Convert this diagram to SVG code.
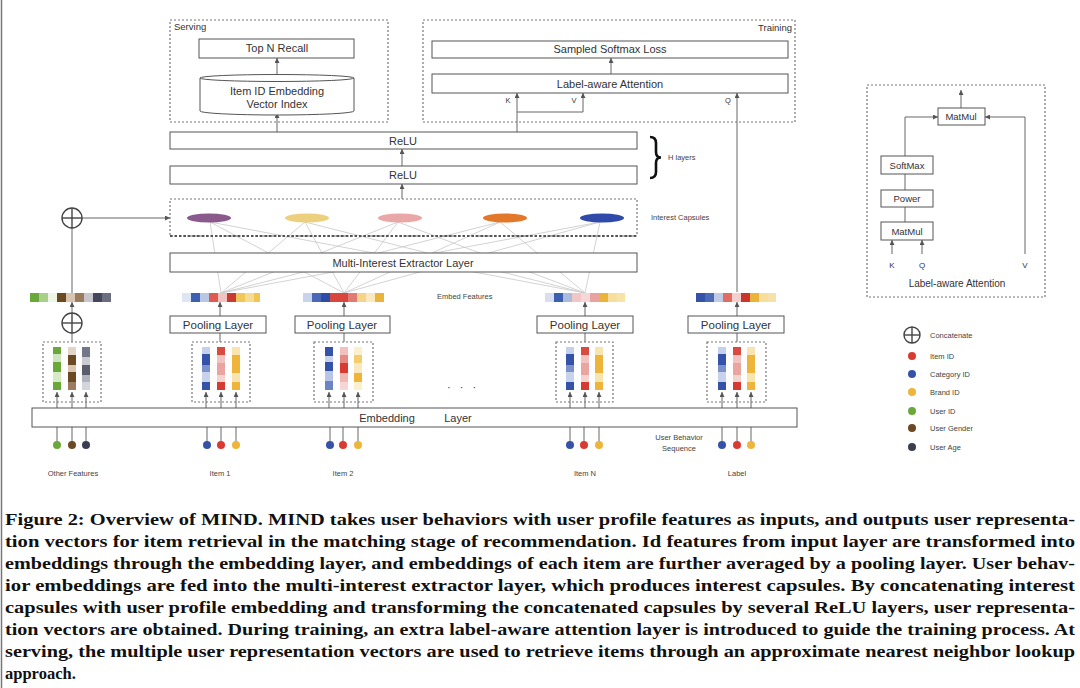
<svg xmlns="http://www.w3.org/2000/svg" width="1080" height="688" viewBox="0 0 1080 688">
<style>
.box{fill:#fff;stroke:#555;stroke-width:1}
.dash{fill:none;stroke:#777;stroke-width:1.2;stroke-dasharray:2 2}
.t{font-family:"Liberation Sans",Arial,sans-serif;fill:#333;text-anchor:middle}
.s{font-family:"Liberation Sans",Arial,sans-serif;fill:#444;font-size:7.5px}
.ln{stroke:#666;stroke-width:1;fill:none}
.ar{stroke:#666;stroke-width:1;fill:none;marker-end:url(#ah)}
.fan{stroke:#c8c8c8;stroke-width:0.8}
.cap{font-family:"Liberation Serif","Times New Roman",serif;font-weight:bold;font-size:16.5px;fill:#111}
.cc{fill:none;stroke:#444;stroke-width:1.4}
</style>
<defs>
<marker id="ah" markerUnits="userSpaceOnUse" markerWidth="5" markerHeight="5" refX="5" refY="2.5" orient="auto">
<path d="M0,0 L5,2.5 L0,5 z" fill="#555"/>
</marker>
<g id="blueA"><rect x="-4" y="347" width="8" height="7" fill="#c5d0ea"/><rect x="-4" y="354" width="8" height="11" fill="#3452a8"/><rect x="-4" y="365" width="8" height="7" fill="#7d92cc"/><rect x="-4" y="372" width="8" height="10" fill="#c8d2ec"/><rect x="-4" y="382" width="8" height="8" fill="#3452a8"/></g>
<g id="blueB"><rect x="-4" y="347" width="8" height="9" fill="#3452a8"/><rect x="-4" y="356" width="8" height="6" fill="#c8d2ec"/><rect x="-4" y="362" width="8" height="9" fill="#3452a8"/><rect x="-4" y="371" width="8" height="10" fill="#b8c5e6"/><rect x="-4" y="381" width="8" height="9" fill="#6d84c4"/></g>
<g id="redA"><rect x="-4" y="347" width="8" height="8" fill="#d94a40"/><rect x="-4" y="355" width="8" height="8" fill="#f3c3c0"/><rect x="-4" y="363" width="8" height="12" fill="#eaa5a1"/><rect x="-4" y="375" width="8" height="7" fill="#f5d3d1"/><rect x="-4" y="382" width="8" height="8" fill="#d63b33"/></g>
<g id="redB"><rect x="-4" y="347" width="8" height="8" fill="#f2c0bd"/><rect x="-4" y="355" width="8" height="8" fill="#e58a84"/><rect x="-4" y="363" width="8" height="10" fill="#d93a31"/><rect x="-4" y="373" width="8" height="9" fill="#f0b7b3"/><rect x="-4" y="382" width="8" height="8" fill="#f6d6d4"/></g>
<g id="yelA"><rect x="-4" y="347" width="8" height="8" fill="#f8e4ae"/><rect x="-4" y="355" width="8" height="18" fill="#eeb53a"/><rect x="-4" y="373" width="8" height="9" fill="#f8e4ae"/><rect x="-4" y="382" width="8" height="8" fill="#eeb53a"/></g>
<g id="yelB"><rect x="-4" y="347" width="8" height="8" fill="#fbefcc"/><rect x="-4" y="355" width="8" height="8" fill="#f3cd6e"/><rect x="-4" y="363" width="8" height="10" fill="#fae9bd"/><rect x="-4" y="373" width="8" height="9" fill="#eeb53a"/><rect x="-4" y="382" width="8" height="8" fill="#fbefcc"/></g>
</defs>
<rect x="0" y="0" width="1080" height="688" fill="#fff"/>
<line x1="1.5" y1="0" x2="1.5" y2="688" stroke="#777" stroke-width="1.5"/>

<g id="connectors">
<g id="fan-lines">
<line class="fan" x1="221" y1="293" x2="210" y2="222"/><line class="fan" x1="221" y1="293" x2="305" y2="222"/><line class="fan" x1="221" y1="293" x2="398" y2="222"/><line class="fan" x1="221" y1="293" x2="500" y2="222"/><line class="fan" x1="221" y1="293" x2="600" y2="222"/>
<line class="fan" x1="344" y1="293" x2="210" y2="222"/><line class="fan" x1="344" y1="293" x2="305" y2="222"/><line class="fan" x1="344" y1="293" x2="398" y2="222"/><line class="fan" x1="344" y1="293" x2="500" y2="222"/><line class="fan" x1="344" y1="293" x2="600" y2="222"/>
<line class="fan" x1="585" y1="293" x2="210" y2="222"/><line class="fan" x1="585" y1="293" x2="305" y2="222"/><line class="fan" x1="585" y1="293" x2="398" y2="222"/><line class="fan" x1="585" y1="293" x2="500" y2="222"/><line class="fan" x1="585" y1="293" x2="600" y2="222"/>
</g>
<line class="ar" x1="277" y1="132" x2="277" y2="113"/>
<line class="ar" x1="277" y1="75" x2="277" y2="58"/>
<line class="ar" x1="611" y1="74" x2="611" y2="58"/>
<line class="ar" x1="517" y1="132" x2="517" y2="93"/>
<polyline class="ar" points="517,112 583,112 583,93"/>
<line class="ar" x1="737" y1="292" x2="737" y2="93"/>
<line class="ar" x1="402" y1="166" x2="402" y2="149"/>
<line class="ar" x1="402" y1="199" x2="402" y2="184"/>
<line class="ar" x1="82" y1="218" x2="170" y2="218"/>
<line class="ln" x1="72" y1="297" x2="72" y2="228"/>
<line class="ar" x1="72" y1="313" x2="72" y2="302"/>
<line class="ln" x1="72" y1="342" x2="72" y2="333"/>
<line class="ar" x1="220" y1="316" x2="220" y2="302"/>
<line class="ar" x1="344" y1="316" x2="344" y2="302"/>
<line class="ar" x1="585" y1="316" x2="585" y2="302"/>
<line class="ar" x1="737" y1="316" x2="737" y2="302"/>
<line class="ln" x1="220" y1="342" x2="220" y2="333"/>
<line class="ln" x1="344" y1="342" x2="344" y2="333"/>
<line class="ln" x1="585" y1="342" x2="585" y2="333"/>
<line class="ln" x1="737" y1="342" x2="737" y2="333"/>
<g id="emb-arrows">
<line class="ar" x1="57" y1="408" x2="57" y2="392"/><line class="ar" x1="72" y1="408" x2="72" y2="392"/><line class="ar" x1="86" y1="408" x2="86" y2="392"/>
<line class="ar" x1="206" y1="408" x2="206" y2="392"/><line class="ar" x1="221" y1="408" x2="221" y2="392"/><line class="ar" x1="236" y1="408" x2="236" y2="392"/>
<line class="ar" x1="329" y1="408" x2="329" y2="392"/><line class="ar" x1="344" y1="408" x2="344" y2="392"/><line class="ar" x1="358" y1="408" x2="358" y2="392"/>
<line class="ar" x1="570" y1="408" x2="570" y2="392"/><line class="ar" x1="585" y1="408" x2="585" y2="392"/><line class="ar" x1="599" y1="408" x2="599" y2="392"/>
<line class="ar" x1="722" y1="408" x2="722" y2="392"/><line class="ar" x1="737" y1="408" x2="737" y2="392"/><line class="ar" x1="751" y1="408" x2="751" y2="392"/>
</g>
<g id="input-lines">
<line class="ln" x1="57" y1="445" x2="57" y2="427"/><line class="ln" x1="72" y1="445" x2="72" y2="427"/><line class="ln" x1="86" y1="445" x2="86" y2="427"/>
<line class="ln" x1="207" y1="445" x2="207" y2="427"/><line class="ln" x1="221" y1="445" x2="221" y2="427"/><line class="ln" x1="236" y1="445" x2="236" y2="427"/>
<line class="ln" x1="330" y1="445" x2="330" y2="427"/><line class="ln" x1="343" y1="445" x2="343" y2="427"/><line class="ln" x1="358" y1="445" x2="358" y2="427"/>
<line class="ln" x1="570" y1="445" x2="570" y2="427"/><line class="ln" x1="584" y1="445" x2="584" y2="427"/><line class="ln" x1="599" y1="445" x2="599" y2="427"/>
<line class="ln" x1="722" y1="445" x2="722" y2="427"/><line class="ln" x1="737" y1="445" x2="737" y2="427"/><line class="ln" x1="751" y1="445" x2="751" y2="427"/>
</g>
<g id="attn-lines">
<line class="ar" x1="961" y1="108" x2="961" y2="90"/>
<polyline class="ar" points="905,156 905,117 938,117"/>
<line class="ln" x1="905" y1="174" x2="905" y2="190"/>
<line class="ln" x1="905" y1="207" x2="905" y2="222"/>
<line class="ar" x1="892" y1="254" x2="892" y2="240"/>
<line class="ar" x1="922" y1="254" x2="922" y2="240"/>
<polyline class="ar" points="1025,254 1025,117 985,117"/>
</g>
</g>

<g id="serving">
<rect class="dash" x="170" y="20" width="218" height="102"/>
<text class="t" x="174" y="30" font-size="9.5" style="text-anchor:start">Serving</text>
</g>
<g id="top-n-recall"><rect class="box" x="199" y="39" width="155" height="19"/><text class="t" x="277" y="52" font-size="11">Top N Recall</text></g>
<g id="vector-index">
<path class="box" d="M200,78 L200,111 A77,4 0 0 0 354,111 L354,78"/>
<ellipse class="box" cx="277" cy="78" rx="77" ry="3.5"/>
<text class="t" x="277" y="95" font-size="11">Item ID Embedding</text>
<text class="t" x="277" y="108" font-size="11">Vector Index</text>
</g>
<g id="training">
<rect class="dash" x="423" y="20" width="372" height="102"/>
<text class="t" x="792" y="31" font-size="9.5" style="text-anchor:end">Training</text>
</g>
<g id="sampled-softmax"><rect class="box" x="432" y="41" width="356" height="17"/><text class="t" x="610" y="53" font-size="11">Sampled Softmax Loss</text></g>
<g id="label-aware-attention">
<rect class="box" x="432" y="74" width="356" height="19"/><text class="t" x="610" y="88" font-size="11">Label-aware Attention</text>
<text class="t" x="508" y="103" font-size="7.5">K</text><text class="t" x="574" y="103" font-size="7.5">V</text><text class="t" x="728" y="103" font-size="7.5">Q</text>
</g>
<g id="relu1"><rect class="box" x="170" y="132" width="467" height="17"/><text class="t" x="403" y="145" font-size="11">ReLU</text></g>
<g id="relu2"><rect class="box" x="170" y="166" width="467" height="18" stroke-width="1.4"/><text class="t" x="403" y="179" font-size="11">ReLU</text></g>
<g id="h-layers">
<path d="M650,137 Q656,137 656,143 L656,152 Q656,157.5 661,157.5 Q656,157.5 656,163 L656,172 Q656,178 650,178" fill="none" stroke="#111" stroke-width="2.6"/>
<text class="s" x="668" y="160">H layers</text>
</g>
<g id="interest-capsules">
<rect class="dash" x="170" y="199" width="467" height="37"/>
<line x1="170" y1="236" x2="637" y2="236" stroke="#555" stroke-width="1.8" stroke-dasharray="2.5 2"/>
<ellipse cx="209" cy="218" rx="22" ry="4.5" fill="#8a5a8c"/>
<ellipse cx="307" cy="218" rx="22" ry="4.5" fill="#ecd07e"/>
<ellipse cx="400" cy="218" rx="22" ry="4.5" fill="#eaa7a7"/>
<ellipse cx="505" cy="218" rx="22" ry="4.5" fill="#e3772a"/>
<ellipse cx="602" cy="218" rx="22" ry="4.5" fill="#2f4aa8"/>
<text class="s" x="651" y="220">Interest Capsules</text>
</g>
<g id="concat-top"><circle class="cc" cx="72" cy="218" r="10" fill="#fff"/><line class="cc" x1="62" y1="218" x2="82" y2="218"/><line class="cc" x1="72" y1="208" x2="72" y2="228"/></g>
<g id="extractor"><rect class="box" x="170" y="253" width="467" height="19"/><text class="t" x="403" y="267" font-size="11">Multi-Interest Extractor Layer</text></g>

<g id="embed-features">
<g id="strip-other">
<rect x="30" y="293" width="9" height="9" fill="#6aa83a"/><rect x="39" y="293" width="9" height="9" fill="#a9d08a"/><rect x="48" y="293" width="9" height="9" fill="#eef5e6"/><rect x="57" y="293" width="9" height="9" fill="#6b4a23"/><rect x="66" y="293" width="9" height="9" fill="#d8c4b0"/><rect x="75" y="293" width="9" height="9" fill="#9b7c5e"/><rect x="84" y="293" width="9" height="9" fill="#c7c7cd"/><rect x="93" y="293" width="9" height="9" fill="#44475a"/><rect x="102" y="293" width="9" height="9" fill="#6b6e7e"/>
</g>
<g id="strip-item1">
<rect x="182" y="293" width="9" height="9" fill="#dfe6f3"/><rect x="191" y="293" width="9" height="9" fill="#3c5fb0"/><rect x="200" y="293" width="9" height="9" fill="#b9c6e4"/><rect x="209" y="293" width="9" height="9" fill="#e05a4f"/><rect x="218" y="293" width="9" height="9" fill="#f2c2c0"/><rect x="227" y="293" width="9" height="9" fill="#c93a32"/><rect x="236" y="293" width="9" height="9" fill="#f2c75a"/><rect x="245" y="293" width="9" height="9" fill="#f5dc90"/><rect x="254" y="293" width="6" height="9" fill="#f1c552"/>
</g>
<g id="strip-item2">
<rect x="303" y="293" width="9" height="9" fill="#c9d3ec"/><rect x="312" y="293" width="9" height="9" fill="#4a68b5"/><rect x="321" y="293" width="9" height="9" fill="#2e4ea6"/><rect x="330" y="293" width="9" height="9" fill="#d9463e"/><rect x="339" y="293" width="9" height="9" fill="#d9463e"/><rect x="348" y="293" width="9" height="9" fill="#e07a73"/><rect x="357" y="293" width="9" height="9" fill="#f3d48a"/><rect x="366" y="293" width="9" height="9" fill="#fae9c0"/><rect x="375" y="293" width="9" height="9" fill="#eab33a"/>
</g>
<g id="strip-itemN">
<rect x="545" y="293" width="9" height="9" fill="#d6def0"/><rect x="554" y="293" width="9" height="9" fill="#3d5fb2"/><rect x="563" y="293" width="9" height="9" fill="#aabbe0"/><rect x="572" y="293" width="9" height="9" fill="#f1c6c6"/><rect x="581" y="293" width="9" height="9" fill="#f6d8d8"/><rect x="590" y="293" width="9" height="9" fill="#e9a2a0"/><rect x="599" y="293" width="9" height="9" fill="#eab33a"/><rect x="608" y="293" width="9" height="9" fill="#f6de9c"/><rect x="617" y="293" width="8" height="9" fill="#f7e3a8"/>
</g>
<g id="strip-label">
<rect x="696" y="293" width="9" height="9" fill="#3452a8"/><rect x="705" y="293" width="9" height="9" fill="#4d6ab8"/><rect x="714" y="293" width="9" height="9" fill="#c0cbe8"/><rect x="723" y="293" width="9" height="9" fill="#e06c62"/><rect x="732" y="293" width="9" height="9" fill="#f4cfcd"/><rect x="741" y="293" width="9" height="9" fill="#c9362e"/><rect x="750" y="293" width="9" height="9" fill="#eab33a"/><rect x="759" y="293" width="9" height="9" fill="#f6de9c"/><rect x="768" y="293" width="8" height="9" fill="#f6e2a8"/>
</g>
<text class="s" x="437" y="299">Embed Features</text>
</g>

<g id="concat-bottom"><circle class="cc" cx="72" cy="323" r="10" fill="#fff"/><line class="cc" x1="62" y1="323" x2="82" y2="323"/><line class="cc" x1="72" y1="313" x2="72" y2="333"/></g>
<g id="pool1"><rect class="box" x="170" y="316" width="96" height="17"/><text class="t" x="218" y="329" font-size="11.5">Pooling Layer</text></g>
<g id="pool2"><rect class="box" x="295" y="316" width="95" height="17"/><text class="t" x="342" y="329" font-size="11.5">Pooling Layer</text></g>
<g id="poolN"><rect class="box" x="537" y="316" width="96" height="17"/><text class="t" x="585" y="329" font-size="11.5">Pooling Layer</text></g>
<g id="poolL"><rect class="box" x="688" y="316" width="96" height="17"/><text class="t" x="736" y="329" font-size="11.5">Pooling Layer</text></g>

<g id="group-other">
<rect class="dash" x="43" y="342" width="58" height="60"/>
<rect x="53" y="347" width="8" height="7" fill="#6aa83a"/><rect x="53" y="354" width="8" height="8" fill="#cfe5bd"/><rect x="53" y="362" width="8" height="10" fill="#6aa83a"/><rect x="53" y="372" width="8" height="10" fill="#d6eac6"/><rect x="53" y="382" width="8" height="8" fill="#6aa83a"/>
<rect x="68" y="347" width="8" height="8" fill="#e3d6c6"/><rect x="68" y="355" width="8" height="10" fill="#6b4a23"/><rect x="68" y="365" width="8" height="7" fill="#d9c7b2"/><rect x="68" y="372" width="8" height="10" fill="#6b4a23"/><rect x="68" y="382" width="8" height="8" fill="#9b7c5e"/>
<rect x="82" y="347" width="8" height="10" fill="#74778a"/><rect x="82" y="357" width="8" height="8" fill="#c9cad2"/><rect x="82" y="365" width="8" height="10" fill="#5a5d6e"/><rect x="82" y="375" width="8" height="7" fill="#b1b3bd"/><rect x="82" y="382" width="8" height="8" fill="#d4d5db"/>
</g>
<g id="group-item1"><rect class="dash" x="192" y="342" width="58" height="60"/><use href="#blueA" x="206"/><use href="#redA" x="221"/><use href="#yelA" x="236"/></g>
<g id="group-item2"><rect class="dash" x="314" y="342" width="59" height="60"/><use href="#blueB" x="329"/><use href="#redB" x="344"/><use href="#yelB" x="358"/></g>
<g id="group-itemN"><rect class="dash" x="556" y="342" width="57" height="60"/><use href="#blueA" x="570"/><use href="#redA" x="585"/><use href="#yelA" x="599"/></g>
<g id="group-label"><rect class="dash" x="707" y="342" width="59" height="60"/><use href="#blueA" x="722"/><use href="#redA" x="737"/><use href="#yelA" x="751"/></g>
<text class="t" x="463" y="391" font-size="11" letter-spacing="3">· · ·</text>

<g id="embedding-layer"><rect class="box" x="32" y="408" width="765" height="19"/><text class="t" x="387" y="422" font-size="11">Embedding</text><text class="t" x="458" y="422" font-size="11">Layer</text></g>

<g id="inputs">
<circle cx="57" cy="445" r="4" fill="#6aa83a"/><circle cx="72" cy="445" r="4" fill="#6b4a23"/><circle cx="86" cy="445" r="4" fill="#3a3d4f"/>
<circle cx="207" cy="445" r="4" fill="#3452a8"/><circle cx="221" cy="445" r="4" fill="#d93a31"/><circle cx="236" cy="445" r="4" fill="#eeb53a"/>
<circle cx="330" cy="445" r="4" fill="#3452a8"/><circle cx="343" cy="445" r="4" fill="#d93a31"/><circle cx="358" cy="445" r="4" fill="#eeb53a"/>
<circle cx="570" cy="445" r="4" fill="#3452a8"/><circle cx="584" cy="445" r="4" fill="#d93a31"/><circle cx="599" cy="445" r="4" fill="#eeb53a"/>
<circle cx="722" cy="445" r="4" fill="#3452a8"/><circle cx="737" cy="445" r="4" fill="#d93a31"/><circle cx="751" cy="445" r="4" fill="#eeb53a"/>
<text class="s" x="73" y="476" style="text-anchor:middle">Other Features</text>
<text class="s" x="220" y="476" style="text-anchor:middle">Item 1</text>
<text class="s" x="343" y="476" style="text-anchor:middle">Item 2</text>
<text class="s" x="585" y="476" style="text-anchor:middle">Item N</text>
<text class="s" x="737" y="476" style="text-anchor:middle">Label</text>
<text class="s" x="679" y="440" style="text-anchor:middle">User Behavior</text>
<text class="s" x="679" y="451" style="text-anchor:middle">Sequence</text>
</g>

<g id="attention-detail">
<rect class="dash" x="867" y="85" width="178" height="212"/>
<g id="matmul-top"><rect class="box" x="938" y="108" width="47" height="17"/><text class="t" x="961" y="120" font-size="9.5">MatMul</text></g>
<g id="softmax"><rect class="box" x="881" y="156" width="52" height="18"/><text class="t" x="907" y="169" font-size="9.5">SoftMax</text></g>
<g id="power"><rect class="box" x="881" y="190" width="52" height="17"/><text class="t" x="907" y="202" font-size="9.5">Power</text></g>
<g id="matmul-bottom"><rect class="box" x="881" y="222" width="52" height="18"/><text class="t" x="907" y="235" font-size="9.5">MatMul</text></g>
<text class="t" x="892" y="268" font-size="8">K</text><text class="t" x="922" y="268" font-size="8">Q</text><text class="t" x="1025" y="268" font-size="8">V</text>
<text class="t" x="957" y="287" font-size="10">Label-aware Attention</text>
</g>

<g id="legend">
<g><circle class="cc" cx="912" cy="335" r="8"/><line class="cc" x1="904" y1="335" x2="920" y2="335"/><line class="cc" x1="912" y1="327" x2="912" y2="343"/></g>
<text class="s" x="930" y="338">Concatenate</text>
<circle cx="912" cy="356" r="4" fill="#d93a31"/><text class="s" x="930" y="359">Item ID</text>
<circle cx="912" cy="374" r="4" fill="#3452a8"/><text class="s" x="930" y="377">Category ID</text>
<circle cx="912" cy="392" r="4" fill="#eeb53a"/><text class="s" x="930" y="395">Brand ID</text>
<circle cx="912" cy="411" r="4" fill="#6aa83a"/><text class="s" x="930" y="414">User ID</text>
<circle cx="912" cy="428" r="4" fill="#6b4a23"/><text class="s" x="930" y="431">User Gender</text>
<circle cx="912" cy="447" r="4" fill="#3a3d4f"/><text class="s" x="930" y="450">User Age</text>
</g>

<g id="caption">
<text class="cap" x="5" y="525" textLength="1070" lengthAdjust="spacingAndGlyphs">Figure 2: Overview of MIND. MIND takes user behaviors with user profile features as inputs, and outputs user representa-</text>
<text class="cap" x="5" y="547" textLength="1070" lengthAdjust="spacingAndGlyphs">tion vectors for item retrieval in the matching stage of recommendation. Id features from input layer are transformed into</text>
<text class="cap" x="5" y="569" textLength="1070" lengthAdjust="spacingAndGlyphs">embeddings through the embedding layer, and embeddings of each item are further averaged by a pooling layer. User behav-</text>
<text class="cap" x="5" y="591" textLength="1070" lengthAdjust="spacingAndGlyphs">ior embeddings are fed into the multi-interest extractor layer, which produces interest capsules. By concatenating interest</text>
<text class="cap" x="5" y="613" textLength="1070" lengthAdjust="spacingAndGlyphs">capsules with user profile embedding and transforming the concatenated capsules by several ReLU layers, user representa-</text>
<text class="cap" x="5" y="635" textLength="1070" lengthAdjust="spacingAndGlyphs">tion vectors are obtained. During training, an extra label-aware attention layer is introduced to guide the training process. At</text>
<text class="cap" x="5" y="657" textLength="1070" lengthAdjust="spacingAndGlyphs">serving, the multiple user representation vectors are used to retrieve items through an approximate nearest neighbor lookup</text>
<text class="cap" x="5" y="679">approach.</text>
</g>
</svg>
